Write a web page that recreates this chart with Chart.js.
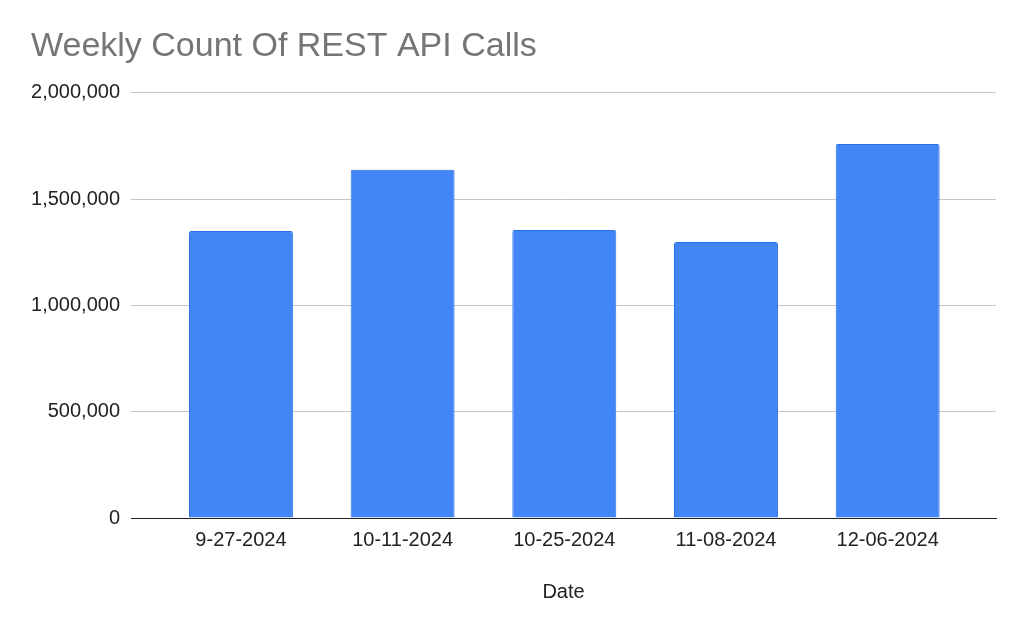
<!DOCTYPE html>
<html>
<head>
<meta charset="utf-8">
<script src="https://cdn.jsdelivr.net/npm/chart.js@4.4.1/dist/chart.umd.min.js"></script>
<style>
  html, body { margin: 0; padding: 0; background: #fff; }
  #wrap { width: 1024px; height: 629px; position: relative; }
</style>
</head>
<body>
<div id="wrap"><canvas id="c"></canvas></div>
<script>
const chartTitle = 'Weekly Count Of REST API Calls';
const xAxisTitle = 'Date';
const dates = ['9-27-2024', '10-11-2024', '10-25-2024', '11-08-2024', '12-06-2024'];
const calls = [1350000, 1638000, 1355000, 1298000, 1759000];
const yTicks = [0, 500000, 1000000, 1500000, 2000000];

const FONT = "'Liberation Sans', Arial, sans-serif";

new Chart(document.getElementById('c'), {
  type: 'bar',
  data: {
    datasets: [{
      label: 'Calls',
      data: calls.map((v, i) => ({ x: i, y: v })),
      backgroundColor: '#4285F4',
      borderColor: '#2a6fe6',
      borderWidth: 1,
      borderRadius: 2,
      barPercentage: 0.643,
      categoryPercentage: 1
    }]
  },
  options: {
    responsive: true,
    maintainAspectRatio: false,
    animation: false,
    devicePixelRatio: 1,
    layout: { padding: { left: 31, right: 28, top: 0, bottom: 0 } },
    plugins: {
      legend: { display: false },
      tooltip: { enabled: false },
      title: {
        display: true,
        text: chartTitle,
        align: 'start',
        color: '#757575',
        font: { family: FONT, size: 34, weight: 'normal' },
        padding: { top: 26, bottom: 26 }
      }
    },
    scales: {
      x: {
        type: 'linear',
        offset: false,
        min: -0.68,
        max: 4.67,
        afterBuildTicks: (s) => { s.ticks = dates.map((_, i) => ({ value: i })); },
        afterFit: (s) => { s.height = 111; },
        grid: { display: false, drawTicks: false },
        border: { display: true, color: '#222', width: 1 },
        ticks: {
          autoSkip: false,
          maxRotation: 0,
          padding: 10,
          color: '#222',
          font: { family: FONT, size: 20 },
          callback: (v) => dates[v] ?? ''
        },
        title: {
          display: true,
          text: xAxisTitle,
          color: '#222',
          font: { family: FONT, size: 20 },
          padding: { top: 0, bottom: 25 }
        }
      },
      y: {
        min: 0,
        max: 2000000,
        afterBuildTicks: (s) => { s.ticks = yTicks.map(v => ({ value: v })); },
        afterFit: (s) => { s.width = 100; },
        grid: { color: '#c6c6c6', lineWidth: 1, drawTicks: false },
        border: { display: false },
        ticks: {
          padding: 11,
          color: '#222',
          font: { family: FONT, size: 20 },
          callback: (v) => Number(v).toLocaleString('en-US')
        }
      }
    }
  }
});
</script>
</body>
</html>
